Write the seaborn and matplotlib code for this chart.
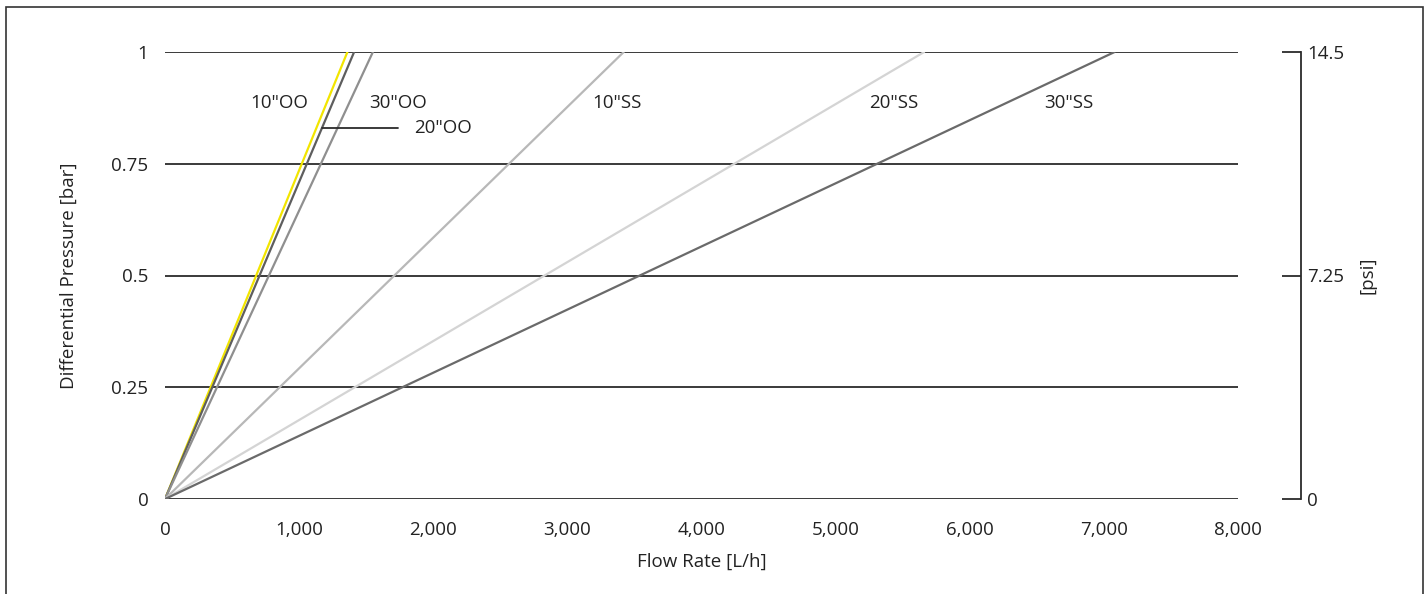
import matplotlib

matplotlib.use("Agg")
import matplotlib.pyplot as plt
import pandas as pd
import seaborn as sns
from matplotlib.patches import Rectangle

# filter housings: flow rate (L/h) reached at 1 bar differential pressure
housings = ['10"OO', '20"OO', '30"OO', '10"SS', '20"SS', '30"SS']
flow_at_1bar = [1360, 1410, 1550, 3420, 5660, 7080]
pressure_bar = [0, 1]
line_colors = ["#f2e500", "#5e5e5e", "#8f8f8f", "#b8b8b8", "#d4d4d4", "#6a6a6a"]

x_ticks = [0, 1000, 2000, 3000, 4000, 5000, 6000, 7000, 8000]
y_ticks = [0, 0.25, 0.5, 0.75, 1]
y_tick_labels = ["0", "0.25", "0.5", "0.75", "1"]
psi_ticks = [0, 7.25, 14.5]
psi_tick_labels = ["0", "7.25", "14.5"]

rows = []
for name, flow in zip(housings, flow_at_1bar):
    for p in pressure_bar:
        rows.append({"housing": name, "flow": flow * p, "pressure": p})
df = pd.DataFrame(rows)

sns.set_theme(style="white")
plt.rcParams["font.family"] = ["Open Sans", "DejaVu Sans"]
ink = "#2b2b2b"
txt = "#222222"
fs = 13.5

fig = plt.figure(figsize=(14.28, 5.94), dpi=100)
ax = fig.add_axes([165 / 1428, 1 - 499 / 594, (1238 - 165) / 1428, (499 - 52) / 594])

for y in y_ticks:
    ax.axhline(y, color=ink, linewidth=1.3, zorder=1)

sns.lineplot(
    data=df, x="flow", y="pressure", hue="housing", hue_order=housings,
    palette=line_colors, linewidth=1.6, legend=False, ax=ax, zorder=3,
)

ax.set_xlim(0, 8000)
ax.set_ylim(0, 1)
ax.set_xticks(x_ticks)
ax.set_xticklabels([f"{v:,}" for v in x_ticks])
ax.set_yticks(y_ticks)
ax.set_yticklabels(y_tick_labels)
ax.tick_params(axis="both", length=0, labelsize=fs, colors=txt)
ax.tick_params(axis="y", pad=12)
ax.tick_params(axis="x", pad=16)
for s in ax.spines.values():
    s.set_visible(False)
ax.set_xlabel("Flow Rate [L/h]", fontsize=fs, color=txt, labelpad=10)
ax.set_ylabel("Differential Pressure [bar]", fontsize=fs, color=txt, labelpad=24)

# curve labels
label_y = 0.887
for text, x in [('10"OO', 850), ('30"OO', 1738), ('10"SS', 3371), ('20"SS', 5436), ('30"SS', 6741)]:
    ax.text(x, label_y, text, ha="center", va="center", fontsize=fs, color=txt)
lead_y = 0.83
ax.plot([flow_at_1bar[1] * lead_y, 1738], [lead_y, lead_y], color=ink, linewidth=1.3, zorder=4)
ax.text(2073, lead_y, '20"OO', ha="center", va="center", fontsize=fs, color=txt)

# secondary psi scale
ax2 = ax.twinx()
ax2.set_ylim(0, 14.5)
ax2.set_yticks(psi_ticks)
ax2.set_yticklabels(psi_tick_labels)
for side in ["top", "left", "bottom"]:
    ax2.spines[side].set_visible(False)
ax2.spines["right"].set_position(("outward", 45))
ax2.spines["right"].set_color(ink)
ax2.spines["right"].set_linewidth(1.3)
ax2.tick_params(axis="y", direction="in", length=14, width=1.3, color=ink,
                labelsize=fs, labelcolor=txt, pad=5)
ax2.set_ylabel("[psi]", fontsize=fs, color=txt, labelpad=10)
ax2.grid(False)

fig.add_artist(Rectangle((6 / 1428, -0.1), (1423 - 6) / 1428, 1.1 - 7 / 594,
                         transform=fig.transFigure, fill=False, edgecolor="#333333",
                         linewidth=1.2))

fig.savefig("out.png", dpi=100)
